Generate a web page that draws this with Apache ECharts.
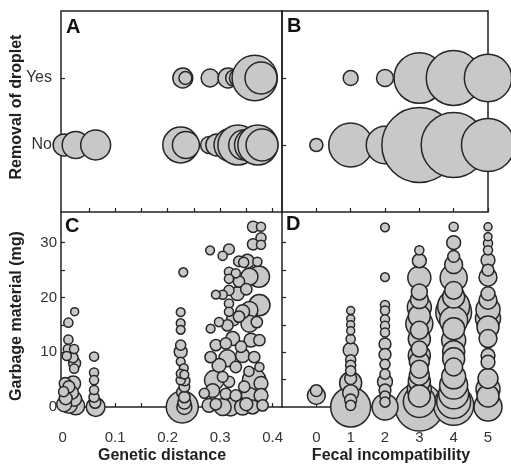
<!DOCTYPE html>
<html>
<head>
<meta charset="utf-8">
<script src="https://cdn.jsdelivr.net/npm/echarts@6/dist/echarts.min.js"></script>
<style>
  html, body { margin: 0; padding: 0; background: #fff; }
  #chart { width: 511px; height: 464px; }
</style>
</head>
<body>
<div id="chart"></div>
<script>
// axis labels / ticks
const removalLabels = ['No', 'Yes']
const geneticTicks = [0, 0.1, 0.2, 0.3, 0.4]
const geneticTickMarks = [0.05, 0.1, 0.15, 0.2, 0.25, 0.3, 0.35, 0.4]
const fecalTicks = [0, 1, 2, 3, 4, 5]
const garbageTicks = [0, 10, 20, 30]
const garbageTickMarks = [5, 10, 15, 20, 25, 30]

// [genetic distance, removal (0 = No, 1 = Yes), n]
const removalByDistance = [
  [0.003, 0, 7.6], [0.025, 0, 11.4], [0.063, 0, 14],
  [0.225, 0, 20], [0.235, 0, 11.4], [0.279, 0, 4.5], [0.294, 0, 7.6],
  [0.32, 0, 17], [0.334, 0, 25], [0.345, 0, 14], [0.359, 0, 17],
  [0.372, 0, 25], [0.38, 0, 16],
  [0.229, 1, 6.2], [0.234, 1, 2.6], [0.281, 1, 5], [0.315, 1, 6.2],
  [0.326, 1, 4], [0.335, 1, 5], [0.366, 1, 32], [0.378, 1, 16]
]

// [fecal incompatibility, removal, n]
const removalByFecal = [
  [0, 0, 2.7], [1, 0, 30], [2, 0, 22], [3, 0, 88], [4, 0, 66], [5, 0, 44],
  [1, 1, 3.5], [2, 1, 4.5], [3, 1, 40], [4, 1, 47], [5, 1, 35]
]

// [genetic distance, garbage mg, n]
const garbageByDistance = [
  [0.023, 17.4, 1], [0.011, 15.4, 1.3], [0.011, 12.3, 1.3], [0.010, 10.6, 1.3],
  [0.022, 10.6, 1.3], [0.008, 9.3, 1.3], [0.020, 9.0, 1.6], [0.023, 8.0, 2.2],
  [0.022, 7.0, 1.3], [0.005, 4.3, 2.2], [0.020, 4.3, 3.5], [0.012, 3.7, 2.2],
  [0.002, 2.8, 1.6], [0.018, 2.6, 2.6], [0.006, 1.6, 2.6], [0.022, 1.5, 3.5],
  [0.012, 0.4, 4.5], [0.025, 0.2, 5], [0.003, 0.5, 3.5],
  [0.06, 9.2, 1.3], [0.06, 6.3, 1.3], [0.06, 4.9, 1.3], [0.06, 3.1, 1.3],
  [0.06, 1.8, 1.6], [0.062, 0.8, 2], [0.063, 0, 5.5],
  [0.23, 24.6, 1.2], [0.225, 17.3, 1.2], [0.225, 15.3, 1.2], [0.225, 14.1, 1.2],
  [0.225, 11.3, 1.6], [0.225, 10.1, 2.6], [0.225, 8.3, 1.2], [0.231, 7.1, 1.2],
  [0.225, 6.1, 1.2], [0.232, 5.9, 1.2], [0.225, 4.9, 1.3], [0.233, 4.8, 1.6],
  [0.232, 3.7, 1.8], [0.228, 2.7, 2], [0.232, 1.8, 2], [0.232, 0.8, 2.6],
  [0.228, 0, 16], [0.232, 0, 3.5],
  [0.363, 32.9, 2], [0.378, 32.9, 1.3], [0.378, 30.9, 1.6], [0.363, 29.7, 2],
  [0.378, 29.6, 1.3], [0.281, 28.6, 1.2], [0.317, 28.8, 1.8], [0.305, 27.6, 1.3],
  [0.336, 26.6, 1.8], [0.352, 26.6, 3], [0.371, 26.5, 1.3], [0.345, 26.4, 1.6],
  [0.317, 24.7, 1.3], [0.33, 24.4, 1.3], [0.356, 23.8, 4.5], [0.374, 23.8, 7],
  [0.317, 23.4, 1.3], [0.336, 22.9, 2], [0.317, 21.3, 1.6], [0.292, 20.5, 1.2],
  [0.305, 20.5, 1.3], [0.333, 20.7, 3], [0.35, 21.5, 2],
  [0.375, 18.6, 7], [0.356, 17.7, 4.5], [0.343, 17.4, 3], [0.317, 18.9, 1.3],
  [0.317, 17.4, 1.3], [0.325, 16.0, 2.6], [0.336, 16.5, 2], [0.356, 15.2, 4.5],
  [0.298, 15.5, 1.3], [0.282, 14.3, 1.2], [0.314, 14.9, 2], [0.37, 15.5, 2],
  [0.324, 12.5, 3], [0.359, 12.2, 3], [0.375, 12.2, 2], [0.292, 11.3, 2],
  [0.311, 11.6, 2], [0.34, 11.0, 2],
  [0.282, 9.1, 2], [0.314, 8.9, 4.5], [0.343, 9.4, 3], [0.365, 9.1, 2],
  [0.298, 7.6, 3], [0.33, 7.3, 2], [0.375, 7.3, 1.3], [0.355, 6.5, 1.6],
  [0.289, 4.9, 6], [0.317, 4.6, 2], [0.365, 4.9, 8.5], [0.378, 4.3, 3],
  [0.346, 3.7, 2], [0.305, 5.5, 1.8],
  [0.286, 3.0, 3], [0.311, 2.4, 2], [0.33, 2.1, 2], [0.356, 2.1, 4],
  [0.378, 2.1, 3], [0.27, 2.5, 1.6],
  [0.279, 0.3, 3], [0.305, 0, 4.5], [0.327, 0.7, 7], [0.343, 0, 4],
  [0.362, 0, 3], [0.381, 0.3, 2], [0.32, 0, 5], [0.292, 0.5, 2], [0.35, 0.5, 2.6]
]

// [fecal incompatibility, garbage mg, n]
const garbageByFecal = [
  [0, 2.1, 5], [0, 3.0, 2.2],
  [1, 17.6, 1], [1, 16.1, 1], [1, 15.0, 1], [1, 13.9, 1], [1, 12.4, 1.3],
  [1, 10.4, 3.5], [1, 8.6, 1.6], [1, 7.6, 1.6], [1, 6.6, 1.6], [1, 5.2, 2.2],
  [1, 4.4, 7.6], [1, 2.6, 4], [1, 1.3, 2.2], [1, 0.3, 1.6], [1, 0, 25],
  [2, 32.8, 1.2], [2, 23.7, 1.2], [2, 18.6, 1.3], [2, 17.6, 1.3], [2, 16.0, 1.3],
  [2, 14.8, 1.3], [2, 13.6, 1.3], [2, 11.5, 2.2], [2, 9.6, 2.2], [2, 7.8, 1.6],
  [2, 6.0, 1.6], [2, 4.6, 3.5], [2, 3.1, 2.2], [2, 2.0, 1.6], [2, 0.9, 1.6], [2, 0, 10.5],
  [3, 28.6, 1.3], [3, 26.7, 3], [3, 23.6, 8.3], [3, 21.0, 4], [3, 19.6, 5],
  [3, 18.2, 9], [3, 16.6, 7.6], [3, 15.2, 11.4], [3, 14.0, 5], [3, 12.4, 7.6],
  [3, 10.6, 4], [3, 9.4, 7.6], [3, 8.3, 6.2], [3, 6.9, 5], [3, 5.8, 6.2],
  [3, 4.7, 7.6], [3, 3.3, 9], [3, 2.0, 7.6], [3, 1.0, 16], [3, 0, 36],
  [4, 32.9, 1.3], [4, 30.0, 3], [4, 27.5, 2.2], [4, 26.0, 5], [4, 23.6, 11.4],
  [4, 21.3, 5], [4, 20.1, 7.6], [4, 18.4, 16], [4, 17.3, 20], [4, 15.8, 12.2],
  [4, 14.3, 7.6], [4, 12.2, 9], [4, 10.1, 7.6], [4, 8.8, 7.6], [4, 7.3, 5],
  [4, 5.5, 9], [4, 4.0, 12.2], [4, 2.4, 14], [4, 1.0, 18], [4, 0.3, 25],
  [5, 32.9, 1], [5, 31.1, 1], [5, 29.9, 1.3], [5, 28.6, 1.3], [5, 26.8, 3],
  [5, 25.0, 2.2], [5, 23.7, 5], [5, 20.7, 3], [5, 19.5, 5], [5, 17.8, 9],
  [5, 16.2, 9.8], [5, 14.6, 7.6], [5, 12.5, 5], [5, 9.4, 3], [5, 8.2, 3],
  [5, 5.2, 6.2], [5, 3.3, 9], [5, 2.0, 7.6], [5, 0, 12.2]
]

const FONT = '"Liberation Sans", Arial, sans-serif'
const INK = '#222'

function bigFirst(arr) {
  return arr.slice().sort((a, b) => b[2] - a[2])
}

function bubbles(data, idx) {
  return {
    type: 'scatter',
    xAxisIndex: idx,
    yAxisIndex: idx,
    data: data,
    clip: false,
    silent: true,
    symbolSize: (v) => 8 * Math.sqrt(v[2]),
    itemStyle: { color: '#c8c8c8', borderColor: '#262626', borderWidth: 1.5, opacity: 1 },
  }
}

const tick = (vals) => ({ show: true, inside: true, length: 4, customValues: vals, lineStyle: { color: INK, width: 1.2 } })
const line = { show: true, onZero: false, lineStyle: { color: INK, width: 1.5 } }
const noLine = { show: false, onZero: false }
const label = (vals, extra) => Object.assign({
  show: true, customValues: vals, color: '#333', fontSize: 15, fontFamily: FONT,
}, extra)

const chart = echarts.init(document.getElementById('chart'))
chart.setOption({
  animation: false,
  grid: [
    { left: 61, top: 11, width: 221, height: 201, show: true, borderColor: INK, borderWidth: 1.5, outerBoundsMode: 'none' },
    { left: 282, top: 11, width: 206, height: 201, show: true, borderColor: INK, borderWidth: 1.5, outerBoundsMode: 'none' },
    { left: 61, top: 212, width: 221, height: 195, outerBoundsMode: 'none' },
    { left: 282, top: 212, width: 206, height: 195, outerBoundsMode: 'none' },
  ],
  xAxis: [
    { gridIndex: 0, type: 'value', min: -0.003, max: 0.418, axisLine: noLine,
      axisTick: tick(geneticTickMarks), axisLabel: { show: false }, splitLine: { show: false } },
    { gridIndex: 1, type: 'value', min: -1, max: 5, axisLine: noLine,
      axisTick: tick(fecalTicks), axisLabel: { show: false }, splitLine: { show: false } },
    { gridIndex: 2, type: 'value', min: -0.003, max: 0.418, axisLine: line,
      axisTick: tick(geneticTickMarks), axisLabel: label(geneticTicks, { margin: 23 }), splitLine: { show: false } },
    { gridIndex: 3, type: 'value', min: -1, max: 5, axisLine: line,
      axisTick: tick(fecalTicks), axisLabel: label(fecalTicks, { margin: 23 }), splitLine: { show: false } },
  ],
  yAxis: [
    { gridIndex: 0, type: 'value', min: -1, max: 2, axisLine: noLine,
      axisTick: tick([0, 1]),
      axisLabel: label([0, 1], { margin: 9, fontSize: 16, formatter: (v) => removalLabels[v] }),
      splitLine: { show: false } },
    { gridIndex: 1, type: 'value', min: -1, max: 2, axisLine: noLine,
      axisTick: tick([0, 1]), axisLabel: { show: false }, splitLine: { show: false } },
    { gridIndex: 2, type: 'value', min: 0, max: 35.6, axisLine: line,
      axisTick: tick(garbageTickMarks), axisLabel: label(garbageTicks, { margin: 4 }), splitLine: { show: false } },
    { gridIndex: 3, type: 'value', min: 0, max: 35.6, axisLine: line,
      axisTick: tick(garbageTickMarks), axisLabel: { show: false }, splitLine: { show: false } },
  ],
  graphic: [
    { type: 'text', left: 66, top: 17, style: { text: 'A', font: 'bold 20px ' + FONT, fill: '#111' } },
    { type: 'text', left: 287, top: 16, style: { text: 'B', font: 'bold 20px ' + FONT, fill: '#111' } },
    { type: 'text', left: 65, top: 216, style: { text: 'C', font: 'bold 20px ' + FONT, fill: '#111' } },
    { type: 'text', left: 286, top: 214, style: { text: 'D', font: 'bold 20px ' + FONT, fill: '#111' } },
    { type: 'text', x: 17, y: 107, rotation: Math.PI / 2,
      style: { text: 'Removal of droplet', font: 'bold 16px ' + FONT, fill: INK, align: 'center', verticalAlign: 'middle' } },
    { type: 'text', x: 17, y: 316, rotation: Math.PI / 2,
      style: { text: 'Garbage material (mg)', font: 'bold 16px ' + FONT, fill: INK, align: 'center', verticalAlign: 'middle' } },
    { type: 'text', x: 162, y: 456,
      style: { text: 'Genetic distance', font: 'bold 16px ' + FONT, fill: INK, align: 'center', verticalAlign: 'middle' } },
    { type: 'text', x: 391, y: 456,
      style: { text: 'Fecal incompatibility', font: 'bold 16px ' + FONT, fill: INK, align: 'center', verticalAlign: 'middle' } },
  ],
  series: [
    bubbles(removalByDistance, 0),
    bubbles(removalByFecal, 1),
    bubbles(bigFirst(garbageByDistance), 2),
    bubbles(bigFirst(garbageByFecal), 3),
  ],
})
</script>
</body>
</html>
